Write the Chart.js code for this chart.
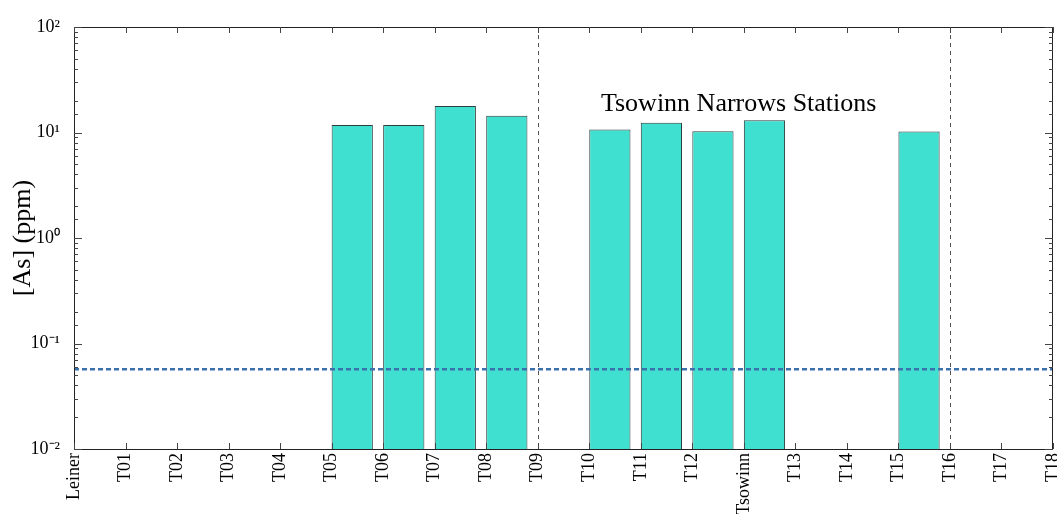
<!DOCTYPE html>
<html>
<head>
<meta charset="utf-8">
<script src="https://cdn.jsdelivr.net/npm/chart.js@4/dist/chart.umd.min.js"></script>
<style>
  html, body { margin: 0; padding: 0; background: #fff; }
</style>
</head>
<body>
<canvas id="asChart" width="1057" height="514"></canvas>
<script>
// station names along the x axis (tick labels)
const stations = ["Leiner", "T01", "T02", "T03", "T04", "T05", "T06", "T07", "T08", "T09",
  "T10", "T11", "T12", "Tsowinn", "T13", "T14", "T15", "T16", "T17", "T18"];
// arsenic concentration in ppm, null where nothing was measured
const asValues = [null, null, null, null, null, 11.8, 11.8, 17.8, 14.4, null,
  10.7, 12.4, 10.3, 13.1, null, null, 10.2, null, null, null];
// y axis decades
const yDecades = [0.01, 0.1, 1, 10, 100];
const yDecadeLabels = ["10\u207B\u00B2", "10\u207B\u00B9", "10\u2070", "10\u00B9", "10\u00B2"];
// guide lines
const dividerStations = ["T09", "T16"];
const thresholdPpm = 0.057;
const annotation = { text: "Tsowinn Narrows Stations", station: 12.9, ppm: 18.6 };

const BAR_FRAC = 0.8;
const SERIF = "'Liberation Serif', 'Times New Roman', serif";
Chart.defaults.font.family = SERIF;
Chart.defaults.color = "#000";

const barData = asValues.map((v, i) => ({ x: i + BAR_FRAC / 2, y: v }));

const extrasPlugin = {
  id: "extras",
  afterDatasetsDraw(chart) {
    const { ctx, chartArea: a, scales } = chart;
    const xs = scales.x;
    const ys = scales.y;
    ctx.save();

    // threshold line
    const ty = ys.getPixelForValue(thresholdPpm);
    ctx.strokeStyle = "#3b72ad";
    ctx.lineWidth = 2.5;
    ctx.setLineDash([5, 3]);
    ctx.beginPath();
    ctx.moveTo(a.left, ty);
    ctx.lineTo(a.right, ty);
    ctx.stroke();

    // station dividers
    ctx.strokeStyle = "#555";
    ctx.lineWidth = 1;
    ctx.setLineDash([4, 4]);
    dividerStations.forEach((s) => {
      const px = Math.round(xs.getPixelForValue(stations.indexOf(s))) + 0.5;
      ctx.beginPath();
      ctx.moveTo(px, a.top);
      ctx.lineTo(px, a.bottom);
      ctx.stroke();
    });
    ctx.setLineDash([]);

    // frame
    ctx.strokeStyle = "#222";
    ctx.lineWidth = 1;
    ctx.strokeRect(Math.round(a.left) + 0.5, Math.round(a.top) + 0.5,
      Math.round(a.right - a.left) - 1, Math.round(a.bottom - a.top));

    // inward ticks
    ctx.strokeStyle = "#444";
    xs.ticks.forEach((t) => {
      const px = Math.round(xs.getPixelForValue(t.value)) + 0.5;
      ctx.beginPath();
      ctx.moveTo(px, a.bottom); ctx.lineTo(px, a.bottom - 6);
      ctx.moveTo(px, a.top); ctx.lineTo(px, a.top + 6);
      ctx.stroke();
    });
    ys.ticks.forEach((t) => {
      const major = yDecades.includes(t.value);
      const len = major ? 8 : 4;
      const py = Math.round(ys.getPixelForValue(t.value)) + 0.5;
      ctx.beginPath();
      ctx.moveTo(a.left, py); ctx.lineTo(a.left + len, py);
      ctx.moveTo(a.right, py); ctx.lineTo(a.right - len, py);
      ctx.stroke();
    });

    // annotation
    ctx.fillStyle = "#000";
    ctx.font = `26px ${SERIF}`;
    ctx.textAlign = "center";
    ctx.textBaseline = "middle";
    ctx.fillText(annotation.text, xs.getPixelForValue(annotation.station),
      ys.getPixelForValue(annotation.ppm));
    ctx.restore();
  },
};

const chart = new Chart(document.getElementById("asChart"), {
  type: "bar",
  data: {
    datasets: [{
      data: barData,
      backgroundColor: "#40e0d0",
      borderColor: "#2c3e3c",
      borderWidth: 1,
      categoryPercentage: BAR_FRAC,
      barPercentage: 1,
    }],
  },
  options: {
    responsive: false,
    animation: false,
    layout: { padding: { top: 27, right: 4, left: 0, bottom: 0 } },
    plugins: { legend: { display: false }, tooltip: { enabled: false } },
    scales: {
      x: {
        type: "linear",
        offset: false,
        min: 0,
        max: stations.length - 1,
        grid: { display: false, drawTicks: false },
        border: { display: false },
        ticks: {
          stepSize: 1,
          autoSkip: false,
          maxRotation: 90,
          minRotation: 90,
          padding: 4,
          font: { size: 18 },
          callback: (v) => stations[v],
        },
        afterFit: (s) => {
          s.height = 65;
          s.paddingLeft = 0;
          s.paddingRight = 0;
        },
      },
      y: {
        type: "logarithmic",
        min: yDecades[0],
        max: yDecades[yDecades.length - 1],
        grid: { display: false },
        border: { display: false },
        ticks: {
          autoSkip: false,
          padding: 6,
          font: { size: 18 },
          callback: (v) => {
            const k = yDecades.indexOf(v);
            return k >= 0 ? yDecadeLabels[k] : "";
          },
        },
        title: {
          display: true,
          text: "[As] (ppm)",
          font: { size: 26 },
          padding: { top: 8, bottom: 0 },
        },
        afterFit: (s) => {
          s.width = 74;
          s.paddingTop = 0;
          s.paddingBottom = 0;
        },
      },
    },
  },
  plugins: [extrasPlugin],
});
</script>
</body>
</html>
